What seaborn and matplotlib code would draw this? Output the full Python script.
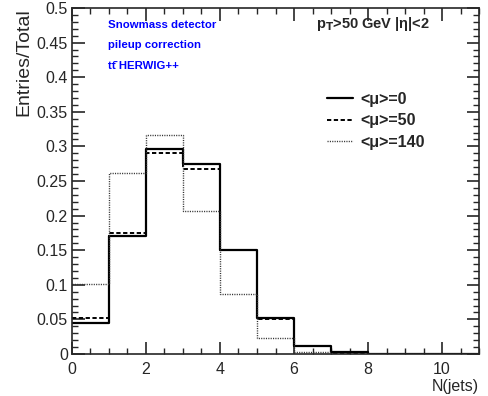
import numpy as np
import pandas as pd
import matplotlib
matplotlib.use("Agg")
import matplotlib.pyplot as plt
import seaborn as sns
from matplotlib.ticker import MultipleLocator

sns.set_style("ticks")
plt.rcParams['font.family'] = ['Liberation Sans', 'DejaVu Sans']

bin_edges = list(range(0, 12))
bin_left = list(range(0, 11))
mu0 = [0.045, 0.170, 0.296, 0.274, 0.150, 0.052, 0.012, 0.0025, 0.0003, 0.0, 0.0]
mu50 = [0.0525, 0.175, 0.291, 0.267, 0.150, 0.051, 0.012, 0.002, 0.0003, 0.0, 0.0]
mu140 = [0.101, 0.262, 0.317, 0.207, 0.086, 0.0236, 0.0034, 0.0006, 0.0002, 0.0, 0.0]
labels = ["<μ>=0", "<μ>=50", "<μ>=140"]
series = [mu0, mu50, mu140]
styles = [dict(linestyle='-', linewidth=1.6, color='black'),
          dict(linestyle=(0, (2.2, 1.3)), linewidth=1.4, color='black'),
          dict(linestyle=(0, (0.8, 0.9)), linewidth=1.0, color='#333333')]

fig = plt.figure(figsize=(4.89, 3.96), dpi=100)
ax = fig.add_axes([0.1472, 0.1061, 0.8324, 0.8737])

centers = [b + 0.5 for b in bin_left]
handles = []
for vals, lab, st in zip(series, labels, styles):
    df = pd.DataFrame({"x": centers, "w": vals})
    sns.histplot(data=df, x="x", weights="w", bins=bin_edges, element="step",
                 fill=False, ax=ax, **st)
    handles.append(plt.Line2D([], [], **st))

ax.set_xlim(0, 11)
ax.set_ylim(0, 0.5)
ax.xaxis.set_major_locator(MultipleLocator(2))
ax.xaxis.set_minor_locator(MultipleLocator(0.5))
ax.yaxis.set_major_locator(MultipleLocator(0.05))
ax.yaxis.set_minor_locator(MultipleLocator(0.01))
ax.set_xticks([0, 2, 4, 6, 8, 10])
ax.set_xticklabels(["0", "2", "4", "6", "8", "10"])
ax.set_yticks(np.arange(0, 0.501, 0.05))
ax.set_yticklabels(["0", "0.05", "0.1", "0.15", "0.2", "0.25", "0.3", "0.35", "0.4", "0.45", "0.5"])
ax.tick_params(which='both', direction='in', top=True, right=True, labelsize=11.5, width=1.2)
ax.tick_params(axis='x', pad=6)
ax.tick_params(axis='y', pad=3)
ax.tick_params(which='major', length=9)
ax.tick_params(which='minor', length=4.5, width=1.0)
for s in ax.spines.values():
    s.set_linewidth(1.2)

ax.set_ylabel("Entries/Total", fontsize=14, loc='top', labelpad=3)
ax.set_xlabel("N(jets)", fontsize=11.5, loc='right', labelpad=1)

blue = '#0000ff'
ax.text(0.088, 0.951, "Snowmass detector", transform=ax.transAxes, color=blue, fontsize=8.2, fontweight='bold', va='center')
ax.text(0.088, 0.893, "pileup correction", transform=ax.transAxes, color=blue, fontsize=8.2, fontweight='bold', va='center')
ax.text(0.088, 0.832, "tt\u0304 HERWIG++", transform=ax.transAxes, color=blue, fontsize=8.2, fontweight='bold', va='center')
ax.text(0.6, 0.955, r"p$_\mathbf{T}$>50 GeV |η|<2", transform=ax.transAxes, fontsize=10.5, fontweight='bold', va='center')

leg = ax.legend(handles, labels, loc='upper left', bbox_to_anchor=(0.627, 0.757), frameon=False,
                prop={'weight': 'bold', 'size': 11.5}, handlelength=1.6, handletextpad=0.5,
                labelspacing=0.4, borderpad=0, borderaxespad=0)

fig.savefig("out.png", dpi=100)
